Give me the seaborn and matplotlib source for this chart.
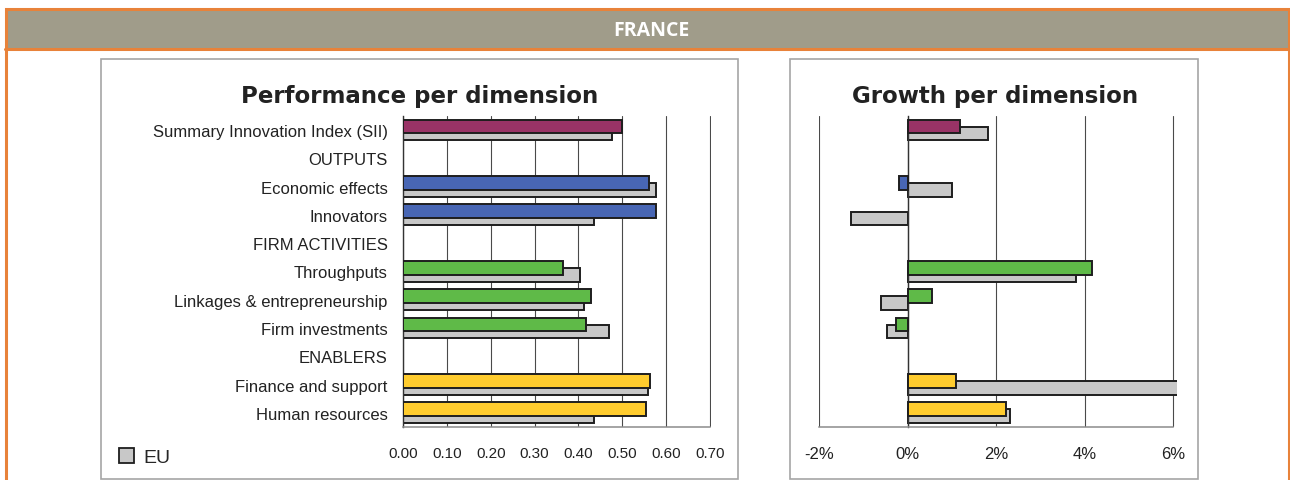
import numpy as np
import pandas as pd
import matplotlib
matplotlib.use("Agg")
import matplotlib.pyplot as plt
import seaborn as sns
from matplotlib.patches import Rectangle, Patch
from matplotlib.lines import Line2D

# data
cats = ["Summary Innovation Index (SII)", "OUTPUTS", "Economic effects", "Innovators",
        "FIRM ACTIVITIES", "Throughputs", "Linkages & entrepreneurship", "Firm investments",
        "ENABLERS", "Finance and support", "Human resources"]
perf_fr = [0.50, np.nan, 0.56, 0.578, np.nan, 0.364, 0.428, 0.418, np.nan, 0.563, 0.554]
perf_eu = [0.477, np.nan, 0.577, 0.436, np.nan, 0.404, 0.413, 0.469, np.nan, 0.559, 0.436]
growth_fr = [1.18, np.nan, -0.19, np.nan, np.nan, 4.16, 0.55, -0.27, np.nan, 1.09, 2.22]
growth_eu = [1.81, np.nan, 1.00, -1.27, np.nan, 3.80, -0.60, -0.46, np.nan, 6.5, 2.31]
perf_ticks = [0.0, 0.1, 0.2, 0.3, 0.4, 0.5, 0.6, 0.7]
growth_ticks = [-2, 0, 2, 4, 6]

# colours
purple, blue, green, yellow = "#993366", "#4866b4", "#5fba48", "#ffcc2e"
group_color = {
    "Summary Innovation Index (SII)": purple,
    "Economic effects": blue, "Innovators": blue,
    "Throughputs": green, "Linkages & entrepreneurship": green, "Firm investments": green,
    "Finance and support": yellow, "Human resources": yellow,
}
gray = "#c8c8c8"
edge = "#1e1e1e"
orange = "#e8823a"
band = "#a09c8a"
frame = "#a5a5a5"

sns.set_style("white")
plt.rcParams["font.family"] = ["Liberation Sans", "DejaVu Sans"]

W, H = 1290, 481
fig = plt.figure(figsize=(W / 100, H / 100), dpi=100)


def fx(px):
    return px / W


def fy(py):
    return 1 - py / H


def rect(x0, y0, x1, y1, **kw):
    r = Rectangle((fx(x0), fy(y1)), fx(x1) - fx(x0), fy(y0) - fy(y1),
                  transform=fig.transFigure, zorder=-5, **kw)
    fig.patches.append(r)


# header and frames
rect(6, 10, 1288, 49, facecolor=band, edgecolor="none")
rect(5.5, 9.5, 1288.8, 495, facecolor="none", edgecolor=orange, lw=2.2)
fig.add_artist(Line2D([fx(5), fx(1289)], [fy(49.5), fy(49.5)], color=orange, lw=2.2))
fig.text(fx(651), fy(31), "FRANCE", color="white", fontsize=14, weight="bold",
         family="Open Sans", ha="center", va="center")
rect(101, 60, 738, 480, facecolor="white", edgecolor=frame, lw=1.2)
rect(790, 60, 1198, 480, facecolor="white", edgecolor=frame, lw=1.2)


def draw(ax, values, colors, offset, z):
    df = pd.DataFrame({"cat": cats, "val": values}).dropna()
    pal = {c: colors.get(c, gray) if isinstance(colors, dict) else colors for c in df["cat"]}
    n0 = len(ax.patches)
    sns.barplot(data=df, x="val", y="cat", order=cats, hue="cat", palette=pal,
                legend=False, width=0.48, saturation=1, edgecolor=edge,
                linewidth=1.4, orient="h", ax=ax)
    for p in ax.patches[n0:]:
        p.set_y(p.get_y() + offset)
        p.set_zorder(z)


def style(ax):
    ax.patch.set_alpha(0)
    ax.set_xlabel("")
    ax.set_ylabel("")
    ax.set_ylim(10.5, -0.5)
    ax.xaxis.grid(True, color="#4a4a4a", lw=0.8)
    ax.yaxis.grid(False)
    ax.set_axisbelow(True)
    for s in ["top", "right"]:
        ax.spines[s].set_visible(False)
    ax.spines["bottom"].set_color("#8c8c8c")
    ax.spines["bottom"].set_linewidth(1.1)
    ax.spines["left"].set_color("#333333")
    ax.spines["left"].set_linewidth(1.0)
    ax.tick_params(axis="x", direction="out", length=5, color="#8c8c8c", width=1,
                   pad=9, labelcolor="#222222")


# performance panel
ax1 = fig.add_axes([fx(403), fy(428), (711 - 403) / W, (428 - 117) / H])
draw(ax1, perf_eu, gray, 0.12, 2)
draw(ax1, perf_fr, group_color, -0.13, 3)
style(ax1)
ax1.set_xlim(0, 0.7023)
ax1.spines["bottom"].set_bounds(0, 0.7)
ax1.set_xticks(perf_ticks)
ax1.set_xticklabels([f"{v:.2f}" for v in perf_ticks], fontsize=11)
ax1.set_yticks(range(len(cats)))
ax1.set_yticklabels(cats, fontsize=12, color="#222222")
ax1.set_yticks(np.arange(-0.5, len(cats), 1), minor=True)
ax1.tick_params(axis="y", which="major", length=0, pad=11)
ax1.tick_params(axis="y", which="minor", length=5, color="#8c8c8c", direction="out")

# growth panel
ax2 = fig.add_axes([fx(819), fy(428), (354 * 8.1 / 8) / W, (428 - 117) / H])
draw(ax2, growth_eu, gray, 0.12, 2)
draw(ax2, growth_fr, group_color, -0.13, 3)
style(ax2)
ax2.set_xlim(-2, 6.1)
ax2.set_xticks(growth_ticks)
ax2.set_xticklabels([f"{v}%" for v in growth_ticks], fontsize=12)
ax2.spines["left"].set_position(("data", 0))
ax2.spines["bottom"].set_bounds(-2, 6)
ax2.set_yticks([])

# titles
fig.text(fx(419.5), fy(97), "Performance per dimension", fontsize=16.5, weight="bold",
         family="DejaVu Sans", ha="center", va="center", color="#222222")
fig.text(fx(995), fy(97), "Growth per dimension", fontsize=16.5, weight="bold",
         family="DejaVu Sans", ha="center", va="center", color="#222222")

# legend
fig.legend(handles=[Patch(facecolor=gray, edgecolor=edge, lw=1.3)], labels=["EU"],
           loc="center left", bbox_to_anchor=(fx(119), fy(458)), frameon=False,
           fontsize=14, handlelength=0.75, handleheight=0.85, handletextpad=0.5,
           borderaxespad=0, borderpad=0)

fig.savefig("out.png", dpi=100)
